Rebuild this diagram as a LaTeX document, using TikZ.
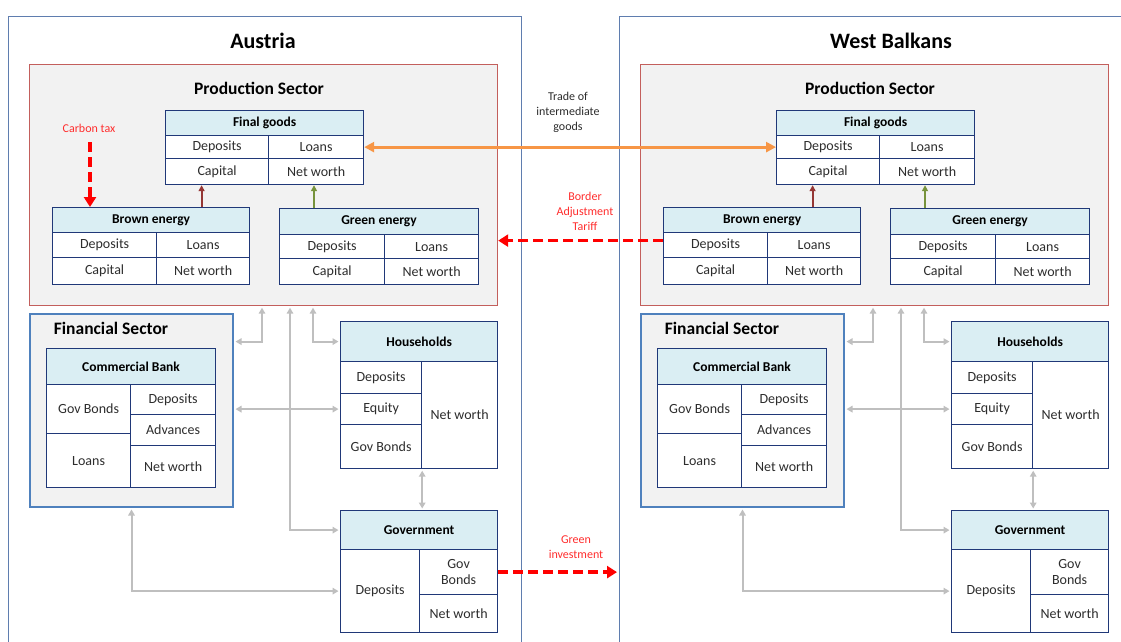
\documentclass[tikz,border=0pt]{standalone}
\usepackage{fontspec}
\setmainfont{Carlito}
\usepackage{tikz}
\usetikzlibrary{arrows.meta}
\definecolor{frame}{RGB}{95,125,175}
\definecolor{prodline}{RGB}{195,95,92}
\definecolor{finline}{RGB}{79,129,189}
\definecolor{sectorfill}{RGB}{242,242,242}
\definecolor{headfill}{RGB}{218,238,243}
\definecolor{tabline}{RGB}{32,56,120}
\definecolor{celltext}{RGB}{45,45,45}
\definecolor{linkgray}{RGB}{191,191,191}
\definecolor{tradeorange}{RGB}{247,150,70}
\definecolor{brownarrow}{RGB}{149,55,53}
\definecolor{greenarrow}{RGB}{119,147,60}
\definecolor{policyred}{RGB}{255,0,0}
\definecolor{notered}{RGB}{255,45,45}
\tikzset{
  cell/.style={draw=tabline, line width=1.2pt, fill=white, text=celltext, anchor=north west,
    inner sep=0pt, align=center, font=\fontsize{14}{16}\selectfont},
  head/.style={cell, fill=headfill, text=black, font=\bfseries\fontsize{13.5}{16}\selectfont},
  country/.style={draw=frame, line width=1pt, anchor=north west, inner sep=0pt,
    minimum width=513pt, minimum height=650pt},
  prodsector/.style={draw=prodline, line width=1.2pt, fill=sectorfill, anchor=north west, inner sep=0pt},
  finsector/.style={draw=finline, line width=2pt, fill=sectorfill, anchor=north west, inner sep=0pt},
  bigtitle/.style={font=\bfseries\fontsize{22}{26}\selectfont},
  sectortitle/.style={font=\bfseries\fontsize{17.5}{20}\selectfont},
  note/.style={text=notered, align=center, inner sep=1pt, font=\fontsize{12}{15}\selectfont},
  link/.style={draw=linkgray, line width=2pt, <->, >={Triangle[length=6pt,width=6.5pt]},
    shorten <=1.5pt, shorten >=1.5pt},
  feed/.style={line width=2pt, -{Triangle[length=6pt,width=6pt]}},
  trade/.style={draw=tradeorange, line width=3pt, <->, >={Triangle[length=10pt,width=10pt]}},
  policy/.style={draw=policyred, line width=3.5pt, dash pattern=on 10pt off 5pt,
    -{Triangle[length=10pt,width=12pt]}}
}
% one table cell: [style]{name}{x}{y}{width}{height}{text}
\newcommand{\tabcell}[7][cell]{%
  \node[#1, minimum width=#5pt, minimum height=#6pt] (#2) at (#3,#4) {#7};}
% one economy: {prefix}{title}{title x}
\newcommand{\economy}[3]{%
  \node[country] (#1cty) at (8,16) {};
  \node[bigtitle] (#1title) at (#3,41) {#2};
  % production sector
  \node[prodsector, minimum width=468pt, minimum height=241pt] (#1ps) at (29,64) {};
  \node[sectortitle] (#1pstitle) at (259,88) {Production Sector};
  \tabcell[head]{#1fgh}{165}{110}{198}{25}{Final goods}
  \tabcell{#1fgd}{165}{135}{103}{23}{Deposits}
  \tabcell{#1fgl}{268}{135}{95}{23}{Loans}
  \tabcell{#1fgc}{165}{158}{103}{26}{Capital}
  \tabcell{#1fgn}{268}{158}{95}{26}{Net worth}
  \tabcell[head]{#1beh}{52}{207}{197}{25}{Brown energy}
  \tabcell{#1bed}{52}{232}{104}{25}{Deposits}
  \tabcell{#1bel}{156}{232}{93}{25}{Loans}
  \tabcell{#1bec}{52}{257}{104}{27}{Capital}
  \tabcell{#1ben}{156}{257}{93}{27}{Net worth}
  \tabcell[head]{#1geh}{279}{208}{199}{26}{Green energy}
  \tabcell{#1ged}{279}{234}{105}{24}{Deposits}
  \tabcell{#1gel}{384}{234}{94}{24}{Loans}
  \tabcell{#1gec}{279}{258}{105}{26}{Capital}
  \tabcell{#1gen}{384}{258}{94}{26}{Net worth}
  \coordinate (#1bfoot) at ([xshift=50.5pt]#1beh.north);
  \coordinate (#1gfoot) at ([xshift=35pt]#1geh.north west);
  \draw[feed, draw=brownarrow, fill=brownarrow] (#1bfoot) -- (#1bfoot |- #1fgc.south);
  \draw[feed, draw=greenarrow, fill=greenarrow] (#1gfoot) -- (#1gfoot |- #1fgc.south);
  % financial sector
  \node[finsector, minimum width=203pt, minimum height=193pt] (#1fs) at (29,313) {};
  \node[sectortitle] (#1fstitle) at (111,328) {Financial Sector};
  \tabcell[head]{#1cbh}{46}{348}{169}{36}{Commercial Bank}
  \tabcell{#1cbg}{46}{384}{84}{49}{Gov Bonds}
  \tabcell{#1cbl}{46}{433}{84}{54}{Loans}
  \tabcell{#1cbd}{130}{384}{85}{30}{Deposits}
  \tabcell{#1cba}{130}{414}{85}{31}{Advances}
  \tabcell{#1cbn}{130}{445}{85}{42}{Net worth}
  % households and government
  \tabcell[head]{#1hhh}{340}{321}{157}{40}{Households}
  \tabcell{#1hhd}{340}{361}{81}{32}{Deposits}
  \tabcell{#1hhe}{340}{393}{81}{31}{Equity}
  \tabcell{#1hhg}{340}{424}{81}{44}{Gov Bonds}
  \tabcell{#1hhn}{421}{361}{76}{107}{Net worth}
  \tabcell[head]{#1gvh}{340}{510}{157}{39}{Government}
  \tabcell{#1gvd}{340}{549}{79}{83}{Deposits}
  \tabcell{#1gvg}{419}{549}{78}{45}{Gov\\Bonds}
  \tabcell{#1gvn}{419}{594}{78}{38}{Net worth}
  % flows between sectors
  \draw[link] (#1fs.east |- #1hhh.center) -| ([xshift=233pt]#1ps.south west);
  \draw[link] ([xshift=261pt]#1ps.south west) |- (#1gvh.west);
  \draw[link] ([xshift=284pt]#1ps.south west) |- (#1hhh.west);
  \draw[link] (#1fs.east |- #1hhe.west) -- (#1hhe.west);
  \draw[link] (#1hhg.south east) -- (#1hhg.south east |- #1gvh.north);
  \draw[link] (#1fs.south) |- (#1gvd.west);
}

\begin{document}
\begin{tikzpicture}[x=1pt,y=-1pt]
  \clip (0,0) rectangle (1121,641);
  \fill[white] (0,0) rectangle (1121,641);

  \begin{scope}
    \economy{A}{Austria}{263}
  \end{scope}
  \begin{scope}[xshift=611pt]
    \economy{B}{West Balkans}{280}
  \end{scope}

  % policies in Austria
  \node[note] (Actax) at (89,128) {Carbon tax};
  \coordinate (Actop) at (90,142);
  \draw[policy] (Actop) -- (Actop |- Abeh.north);

  % cross-border flows
  \node[align=center, text=celltext, font=\fontsize{12}{15}\selectfont] (Itrade) at (568,112)
    {Trade of\\intermediate\\goods};
  \draw[trade] (Afgl.east) -- (Bfgd.west);
  \node[note] (Btariff) at (585,211) {Border\\Adjustment\\Tariff};
  \coordinate (Btar) at ([yshift=4.5pt]Bbed.west);
  \draw[policy] (Btar) -- (Btar -| Aps.east);
  \node[note] (Ginv) at (576,547) {Green\\investment};
  \draw[policy, shorten >=2pt] (Agvg.east) -- (Agvg.east -| Bcty.west);
\end{tikzpicture}
\end{document}
